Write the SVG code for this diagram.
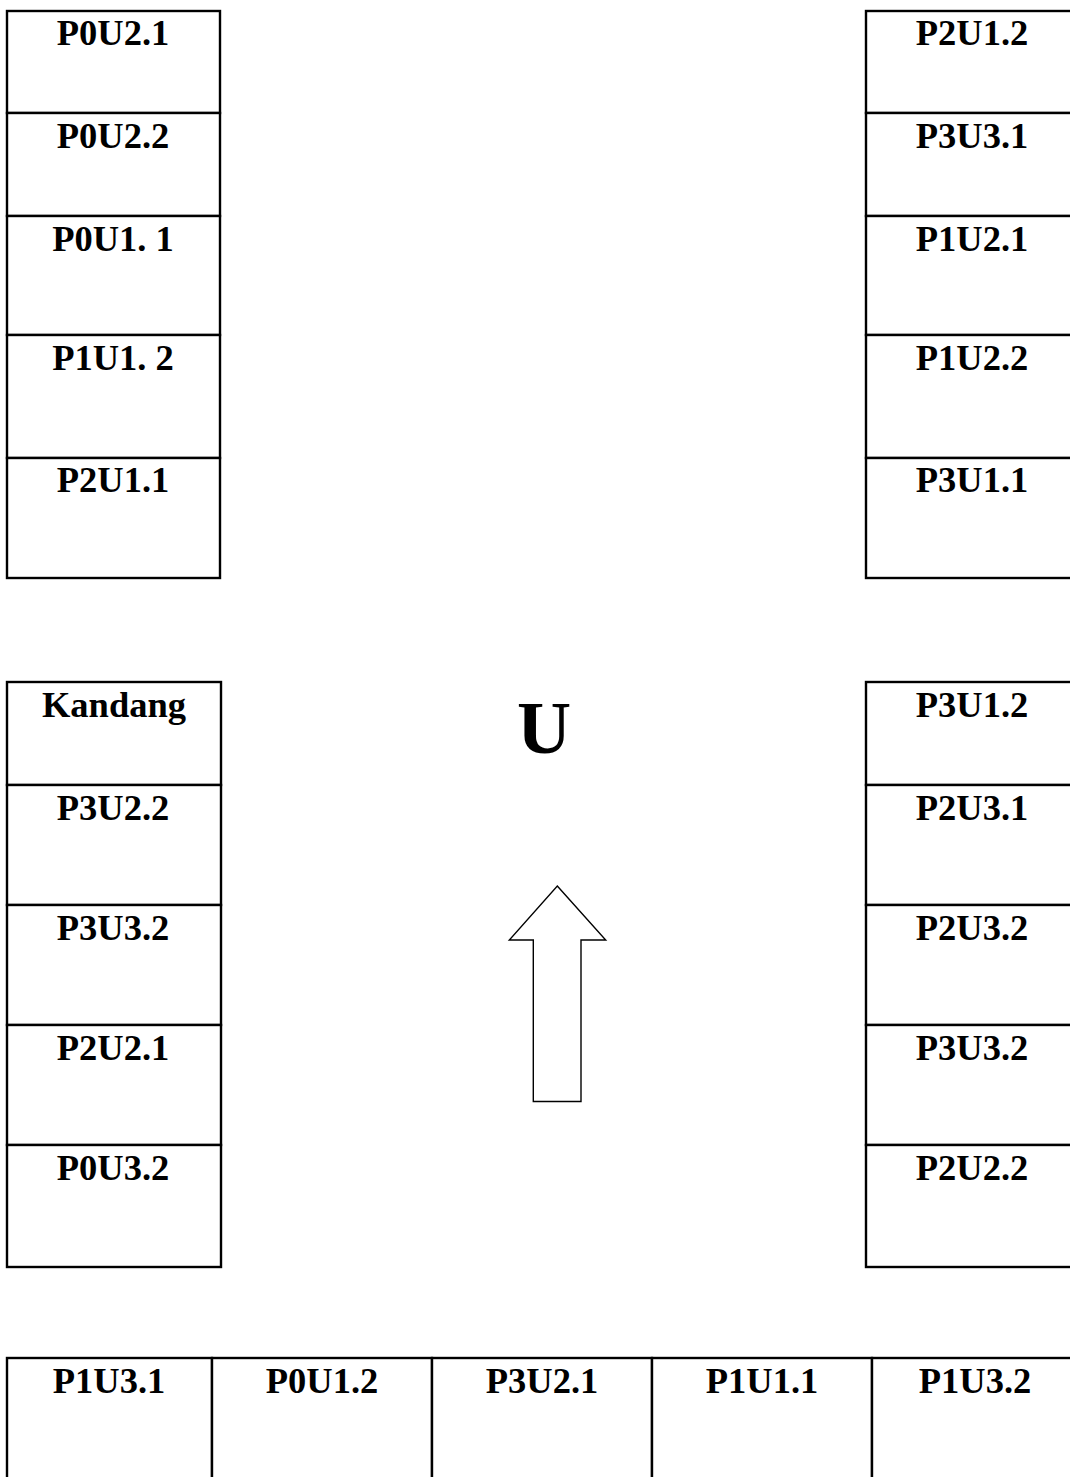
<svg xmlns="http://www.w3.org/2000/svg" width="1070" height="1477" viewBox="0 0 1070 1477">
<style>
rect.c{fill:#fff;stroke:#000;stroke-width:2.4}
text.l{font-family:"Liberation Serif","Times New Roman",serif;font-weight:bold;font-size:36.5px;text-anchor:middle;fill:#000}
text.u{font-family:"Liberation Serif","Times New Roman",serif;font-weight:bold;font-size:75px;text-anchor:middle;fill:#000}
</style>
<rect width="1070" height="1477" fill="#fff"/>
<!-- top-left column -->
<g id="n-P0U2-1"><rect class="c" x="7" y="11" width="213" height="102"/><text class="l" x="113" y="45">P0U2.1</text></g>
<g id="n-P0U2-2"><rect class="c" x="7" y="113" width="213" height="103"/><text class="l" x="113" y="148">P0U2.2</text></g>
<g id="n-P0U1-1"><rect class="c" x="7" y="216" width="213" height="119"/><text class="l" x="113" y="251">P0U1. 1</text></g>
<g id="n-P1U1-2"><rect class="c" x="7" y="335" width="213" height="123"/><text class="l" x="113" y="370">P1U1. 2</text></g>
<g id="n-P2U1-1"><rect class="c" x="7" y="458" width="213" height="120"/><text class="l" x="113" y="492">P2U1.1</text></g>
<!-- top-right column -->
<g id="n-P2U1-2"><rect class="c" x="866" y="11" width="213" height="102"/><text class="l" x="972" y="45">P2U1.2</text></g>
<g id="n-P3U3-1"><rect class="c" x="866" y="113" width="213" height="103"/><text class="l" x="972" y="148">P3U3.1</text></g>
<g id="n-P1U2-1"><rect class="c" x="866" y="216" width="213" height="119"/><text class="l" x="972" y="251">P1U2.1</text></g>
<g id="n-P1U2-2"><rect class="c" x="866" y="335" width="213" height="123"/><text class="l" x="972" y="370">P1U2.2</text></g>
<g id="n-P3U1-1"><rect class="c" x="866" y="458" width="213" height="120"/><text class="l" x="972" y="492">P3U1.1</text></g>
<!-- middle-left column -->
<g id="n-Kandang"><rect class="c" x="7" y="682" width="214" height="103"/><text class="l" x="114" y="717">Kandang</text></g>
<g id="n-P3U2-2"><rect class="c" x="7" y="785" width="214" height="120"/><text class="l" x="113" y="820">P3U2.2</text></g>
<g id="n-P3U3-2a"><rect class="c" x="7" y="905" width="214" height="120"/><text class="l" x="113" y="940">P3U3.2</text></g>
<g id="n-P2U2-1"><rect class="c" x="7" y="1025" width="214" height="120"/><text class="l" x="113" y="1060">P2U2.1</text></g>
<g id="n-P0U3-2"><rect class="c" x="7" y="1145" width="214" height="122"/><text class="l" x="113" y="1180">P0U3.2</text></g>
<!-- middle-right column -->
<g id="n-P3U1-2"><rect class="c" x="866" y="682" width="213" height="103"/><text class="l" x="972" y="717">P3U1.2</text></g>
<g id="n-P2U3-1"><rect class="c" x="866" y="785" width="213" height="120"/><text class="l" x="972" y="820">P2U3.1</text></g>
<g id="n-P2U3-2"><rect class="c" x="866" y="905" width="213" height="120"/><text class="l" x="972" y="940">P2U3.2</text></g>
<g id="n-P3U3-2b"><rect class="c" x="866" y="1025" width="213" height="120"/><text class="l" x="972" y="1060">P3U3.2</text></g>
<g id="n-P2U2-2"><rect class="c" x="866" y="1145" width="213" height="122"/><text class="l" x="972" y="1180">P2U2.2</text></g>
<!-- bottom row -->
<g id="n-P1U3-1"><rect class="c" x="7" y="1358" width="205" height="140"/><text class="l" x="109" y="1393">P1U3.1</text></g>
<g id="n-P0U1-2"><rect class="c" x="212" y="1358" width="220" height="140"/><text class="l" x="322" y="1393">P0U1.2</text></g>
<g id="n-P3U2-1"><rect class="c" x="432" y="1358" width="220" height="140"/><text class="l" x="542" y="1393">P3U2.1</text></g>
<g id="n-P1U1-1"><rect class="c" x="652" y="1358" width="220" height="140"/><text class="l" x="762" y="1393">P1U1.1</text></g>
<g id="n-P1U3-2"><rect class="c" x="872" y="1358" width="207" height="140"/><text class="l" x="975" y="1393">P1U3.2</text></g>
<!-- north marker -->
<g id="north">
<text class="u" x="544" y="753">U</text>
<polygon points="557.3,886 605.7,940 581,940 581,1101.5 533.3,1101.5 533.3,940 509.3,940" fill="#fff" stroke="#000" stroke-width="1.4" stroke-linejoin="miter"/>
</g>
<g id="connectors"></g>
</svg>
